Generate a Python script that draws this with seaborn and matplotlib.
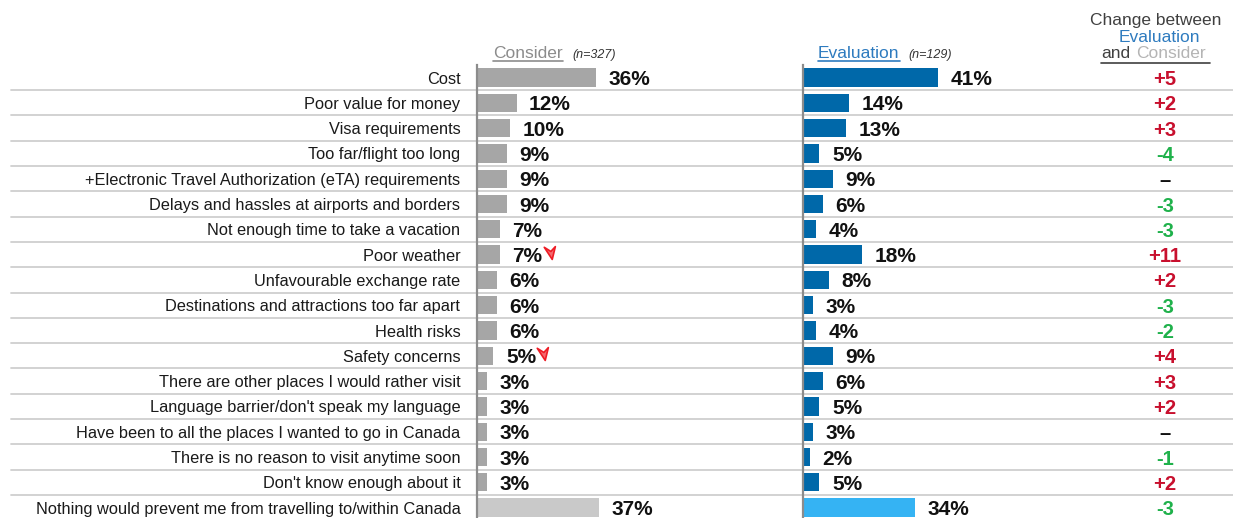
import matplotlib.pyplot as plt
import matplotlib.transforms as mtransforms
import pandas as pd
import seaborn as sns
from matplotlib.lines import Line2D
from matplotlib.path import Path

# Data
reasons = [
    "Cost",
    "Poor value for money",
    "Visa requirements",
    "Too far/flight too long",
    "+Electronic Travel Authorization (eTA) requirements",
    "Delays and hassles at airports and borders",
    "Not enough time to take a vacation",
    "Poor weather",
    "Unfavourable exchange rate",
    "Destinations and attractions too far apart",
    "Health risks",
    "Safety concerns",
    "There are other places I would rather visit",
    "Language barrier/don't speak my language",
    "Have been to all the places I wanted to go in Canada",
    "There is no reason to visit anytime soon",
    "Don't know enough about it",
    "Nothing would prevent me from travelling to/within Canada",
]
consider = [36, 12, 10, 9, 9, 9, 7, 7, 6, 6, 6, 5, 3, 3, 3, 3, 3, 37]
evaluation = [41, 14, 13, 5, 9, 6, 4, 18, 8, 3, 4, 9, 6, 5, 3, 2, 5, 34]
change = [5, 2, 3, -4, 0, -3, -3, 11, 2, -3, -2, 4, 3, 2, 0, -1, 2, -3]
flagged = ["Poor weather", "Safety concerns"]

df = pd.DataFrame({"reason": reasons, "consider": consider,
                   "evaluation": evaluation, "change": change})

sns.set_style("white")
plt.rcParams["font.family"] = ["Liberation Sans", "DejaVu Sans"]

GREY_BAR, GREY_LIGHT = "#a6a6a6", "#c9c9c9"
BLUE_BAR, BLUE_LIGHT = "#0068a9", "#35b3f3"
BLUE_TXT, GREY_TXT = "#2e7bbf", "#8c8c8c"
RED, GREEN = "#c8102e", "#1fb14b"

W, H = 1233, 518
fig = plt.figure(figsize=(W / 100, H / 100), dpi=100)


def px_axes(left, top, width, height):
    return fig.add_axes([left / W, 1 - (top + height) / H, width / W, height / H])


row_h = 25.3
top = 77.5 - row_h / 2
ax1 = px_axes(477, top, 300, row_h * len(reasons))
ax2 = px_axes(803, top, 300, row_h * len(reasons))
ax3 = px_axes(1110, top, 110, row_h * len(reasons))

last = reasons[-1]
pal1 = {r: (GREY_LIGHT if r == last else GREY_BAR) for r in reasons}
pal2 = {r: (BLUE_LIGHT if r == last else BLUE_BAR) for r in reasons}

sns.barplot(data=df, x="consider", y="reason", hue="reason", palette=pal1,
            width=0.72, saturation=1, legend=False, ax=ax1, linewidth=0)
sns.barplot(data=df, x="evaluation", y="reason", hue="reason", palette=pal2,
            width=0.72, saturation=1, legend=False, ax=ax2, linewidth=0)

for ax in (ax1, ax2, ax3):
    ax.set_ylim(len(reasons) - 0.5, -0.5)
    ax.patch.set_visible(False)
    ax.set_xlabel("")
    ax.set_ylabel("")
    ax.set_xticks([])
    for s in ("top", "right", "bottom"):
        ax.spines[s].set_visible(False)

for ax in (ax1, ax2):
    ax.set_xlim(0, 91)
    ax.spines["left"].set_color("#8c8c8c")
    ax.spines["left"].set_linewidth(1.6)

ax1.tick_params(axis="y", length=0, pad=12, labelsize=11.8, labelcolor="#1a1a1a")
ax2.set_yticks([])
ax3.set_yticks([])
ax3.set_xlim(0, 1)
ax3.spines["left"].set_visible(False)

# value labels
for ax, vals in ((ax1, consider), (ax2, evaluation)):
    for i, v in enumerate(vals):
        ax.annotate(f"{v}%", (v, i), xytext=(9, 0), textcoords="offset points",
                    ha="left", va="center_baseline", fontsize=15,
                    fontweight="bold", color="#111111")

# red flag arrows next to some consider values
arrow = Path([(0.25, -1.0), (-0.9, 0.75), (0.05, 0.15), (0.7, 0.85), (0.25, -1.0)],
             [Path.MOVETO, Path.LINETO, Path.LINETO, Path.LINETO, Path.CLOSEPOLY])
for i, r in enumerate(reasons):
    if r in flagged:
        tr = mtransforms.offset_copy(ax1.transData, fig=fig, x=36, y=2, units="points")
        ax1.plot([consider[i]], [i], marker=arrow, markersize=10, color="#ee1c25",
                 markerfacecolor="#f56a6f", markeredgewidth=1.2,
                 transform=tr, clip_on=False)

# change column
for i, c in enumerate(change):
    if c > 0:
        txt, col = f"+{c}", RED
    elif c < 0:
        txt, col = f"-{abs(c)}", GREEN
    else:
        txt, col = "\u2013", "#111111"
    ax3.text(0.5, i, txt, ha="center", va="center_baseline", fontsize=14.5,
             fontweight="bold", color=col)

# row separators across the whole width
sep_tr = mtransforms.blended_transform_factory(fig.transFigure, ax1.transData)
for i in range(len(reasons) - 1):
    fig.add_artist(Line2D([11 / W, 1], [i + 0.5, i + 0.5], transform=sep_tr,
                          color="#cfcfcf", lw=1.3, zorder=-1))


# headers
def ftext(x, y, s, **kw):
    return fig.text(x / W, 1 - y / H, s, **kw)


def underline(t, y, color):
    fig.canvas.draw()
    bb = t.get_window_extent()
    fig.add_artist(Line2D([bb.x0 / W, bb.x1 / W], [1 - y / H, 1 - y / H],
                          transform=fig.transFigure, color=color, lw=1.2))


h1 = ftext(493, 53, "Consider", fontsize=12.5, color=GREY_TXT, va="center")
ftext(572, 55, "(n=327)", fontsize=9, style="italic", color="#333333", va="center")
h2 = ftext(818, 53, "Evaluation", fontsize=12.5, color=BLUE_TXT, va="center")
ftext(908, 55, "(n=129)", fontsize=9, style="italic", color="#333333", va="center")
ftext(1156, 20, "Change between", fontsize=12.5, color="#404040", ha="center", va="center")
ftext(1159, 37, "Evaluation", fontsize=12.5, color=BLUE_TXT, ha="center", va="center")
ftext(1101, 54, "and", fontsize=12.5, color="#404040", va="center")
ftext(1136, 54, "Consider", fontsize=12.5, color="#b4b4b4", va="center")

underline(h1, 61, GREY_TXT)
underline(h2, 61, BLUE_TXT)
fig.add_artist(Line2D([1101 / W, 1210 / W], [1 - 63 / H, 1 - 63 / H],
                      transform=fig.transFigure, color="#404040", lw=1.2))

fig.savefig("out.png", dpi=100)
